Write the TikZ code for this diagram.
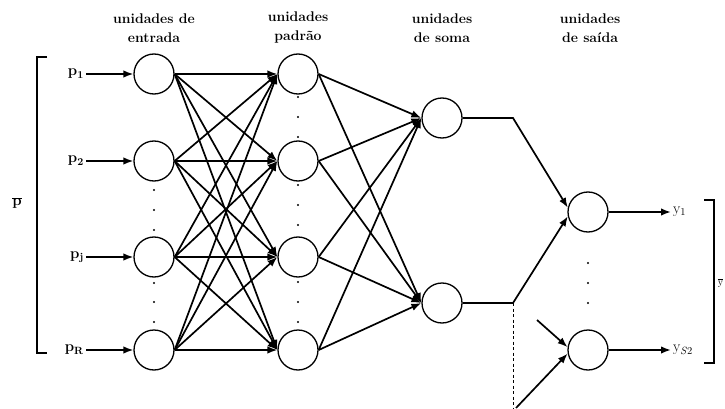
\documentclass[tikz,border=0pt]{standalone}
\usetikzlibrary{arrows.meta}

\begin{document}
\begin{tikzpicture}[x=1pt,y=-1pt,
  neuron/.style={circle,draw,line width=1.3pt,minimum size=40pt,inner sep=0pt},
  link/.style={-{Latex[length=10pt,width=7.5pt]},line width=1.7pt},
  hdr/.style={font=\bfseries\fontsize{14}{19}\selectfont,align=center},
  lbl/.style={font=\bfseries\fontsize{15}{17}\selectfont,inner sep=2pt},
  olbl/.style={font=\fontsize{15}{17}\selectfont,inner sep=2pt},
  pt/.style={circle,fill,inner sep=0pt,minimum size=2.4pt}]
\useasboundingbox (0,0) rectangle (725,409);

% Column titles.
\node[hdr] (hE) at (154,28) {unidades de\\entrada};
\node[hdr] (hP) at (298,28) {unidades\\padrão};
\node[hdr] (hS) at (442,28) {unidades\\de soma};
\node[hdr] (hO) at (590,28) {unidades\\de saída};

% Units of the four layers.
\node[neuron] (E1) at (154,74) {};
\node[neuron] (E2) at (154,161) {};
\node[neuron] (E3) at (154,257) {};
\node[neuron] (E4) at (154,350) {};
\node[neuron] (P1) at (298,74) {};
\node[neuron] (P2) at (298,161) {};
\node[neuron] (P3) at (298,257) {};
\node[neuron] (P4) at (298,350) {};
\node[neuron] (S1) at (442,118) {};
\node[neuron] (S2) at (442,303) {};
\node[neuron] (O1) at (588,212) {};
\node[neuron] (O2) at (588,350) {};

% Inputs.
\node[lbl,anchor=east] (x1) at (86,74) {p\textsubscript{1}};
\node[lbl,anchor=east] (x2) at (86,161) {p\textsubscript{2}};
\node[lbl,anchor=east] (x3) at (86,257) {p\textsubscript{j}};
\node[lbl,anchor=east] (x4) at (86,350) {p\textsubscript{R}};
\foreach \i in {1,...,4}
  \draw[link] (x\i.east) -- (E\i.west);

% Input to pattern, pattern to summation.
\foreach \i in {1,...,4}{
  \foreach \j in {1,...,4}
    \draw[link] (E\i.east) -- (P\j.west);
  \draw[link] (P\i.east) -- (S1.west);
  \draw[link] (P\i.east) -- (S2.west);
}

% Summation to output.
\coordinate (k1) at (513,118);
\coordinate (k2) at (513,303);
\coordinate (k3) at (516,408);
\coordinate (k4) at (513,409);
\coordinate (k5) at (537,320);
\draw[link] (S1.east) -- (k1) -- (O1.168);
\draw[link] (S2.east) -- (k2) -- (O1.192);
\draw[dashed,line width=0.8pt,dash pattern=on 3pt off 2.5pt] (k2) -- (k4);
\draw[link] (k5) -- (O2.172);
\draw[link] (k3) -- (O2.190);

% Outputs.
\node[olbl,anchor=west] (y1) at (671,212) {y\textsubscript{1}};
\node[olbl,anchor=west] (y2) at (671,350) {y\textsubscript{\textit{S}2}};
\draw[link] (O1.east) -- (y1.west);
\draw[link] (O2.east) -- (y2.west);

% Dots between units.
\foreach \y in {190,210,230,283,302,322}
  \node[pt] at (154,\y) {};
\foreach \y in {97,117,137,185,205,225,282,302,322}
  \node[pt] at (298,\y) {};
\foreach \y in {263,283,303}
  \node[pt] at (588,\y) {};

% Brackets.
\draw[line width=1.3pt] (47,57) -- (37,57) -- (37,353) -- (47,353);
\node[lbl] (pv) at (17,203) {$\overline{\mbox{\bfseries p}}$};
\draw[line width=1.3pt] (704,200) -- (714,200) -- (714,363) -- (704,363);
\node[font=\fontsize{10}{12}\selectfont,inner sep=0pt] (yv) at (720.5,283) {$\overline{\mathrm{y}}$};

\end{tikzpicture}
\end{document}
